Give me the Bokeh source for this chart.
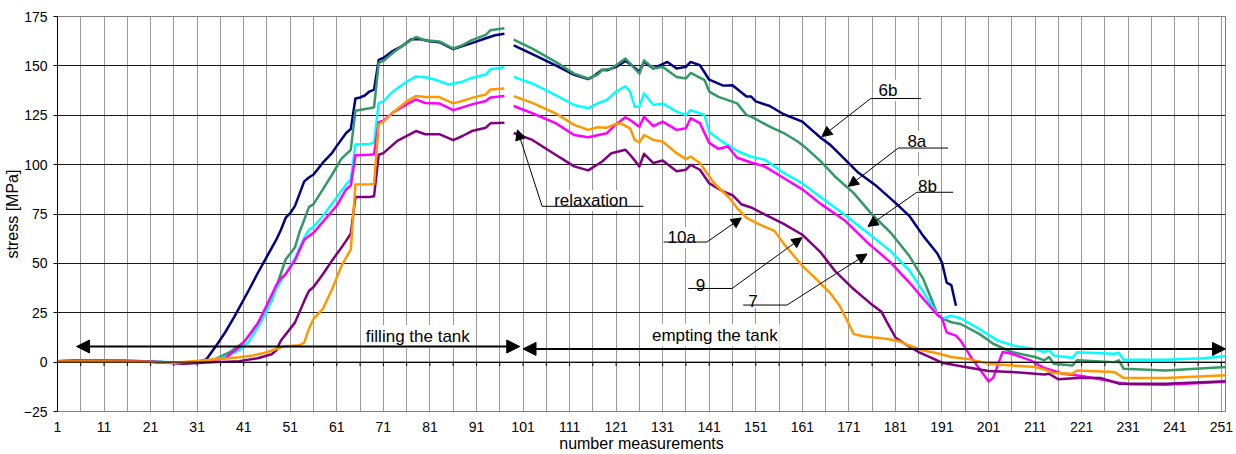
import numpy as np
from bokeh.plotting import figure
from bokeh.models import FixedTicker, Span, Arrow, NormalHead, Label, Range1d
from bokeh.embed import file_html
from bokeh.resources import INLINE

nan = float("nan")

# ---- data: (measurement number, stress MPa); nan = missing measurement ----
s6b = [(1,0.5),(10,0.7),(20,0.3),(28,-0.5),(31,-0.3),(33,1.5),(35,8),(37,15),(39,23),(42,36),(44,45),(46,53.5),(48,62),
       (49,67),(50,73),(51,75.5),(52,79),(54,91.5),(55,93.5),(56,95),(58,101),(60,106),(61,109.5),(63,116),(64,118),
       (65,133.5),(66,134),(67,135),(68,137),(69,138),(70,153),(71,154),(73,157.5),(75,160),(77,163.5),(79,163.5),
       (81,162.5),(83,162),(86,158.5),(88,160),(90,161.5),(93,164),(95,165.5),(97,166.3),(98,nan),
       (99,160.4),(103,156),(108,150.3),(112,145.5),(115,143.3),(116,144.5),(118,148),(119,147.8),(121,149.5),
       (123,152.5),(124,151),(126,147),(127,152),(129,148.7),(132,152),(134,148.7),(136,149.5),(137,152),(139,150.3),
       (141,143),(144,140),(146,140.2),(149,134.5),(150,134.5),(151,132),(154,129.7),(157,125.5),(161,121.8),
       (163,117.6),(165,113.5),(167,110),(170,103),(173,96),(177,89),(181,80.6),(184,74),(187,63.8),(190,55),
       (191,50.4),(192,40.3),(193,39),(194,28.5)]
s8a = [(1,0.5),(10,0.7),(20,0.3),(28,-0.5),(33,0.5),(35,1.7),(38,5),(41,10),(44,19.5),(47,31),(49,45),(50,52),(52,58),
       (53,66),(54,72),(55,78.5),(56,80),(58,87.5),(60,95),(62,103),(64,107.5),(65,127.3),(68,128.5),(69,129),
       (70,151.5),(71,152.5),(73,156.5),(75,160),(78,164.6),(80,163),(83,162.4),(86,158.8),(88,160.5),(90,163),
       (93,165.7),(94,168),(97,169),(98,nan),
       (99,163.3),(103,158.7),(108,152),(112,146.1),(115,143.6),(117,145.5),(118,147.8),(120,148.7),(123,153.7),
       (124,151.2),(126,146),(127,152.8),(129,148.7),(131,149.5),(134,144.4),(136,143.6),(137,146.4),(140,142.8),
       (141,137),(143,134.3),(147,131),(149,125.1),(150,124.3),(154,119.2),(157,116),(160,111.7),(162,108),
       (165,101.5),(168,94),(172,85.7),(176,74.7),(180,65.5),(184,53.7),(187,42),(189,30.3),(190,24),(191,22.2),
       (193,20.2),(195,19.3),(199,14.3),(202,9.3),(206,5.1),(211,2.6),(213,0.9),(214,2.6),(215,-0.8),(219,-1.7),
       (220,0.9),(228,0),(229,0.9),(230,-3.3),(239,-4.2),(252,-2.5)]
s8b = [(1,0.5),(5,1),(15,1),(20,0.5),(28,-0.3),(33,0.5),(37,2.5),(40,6),(42,10),(44,17.5),(46,26),(48,37),(49,41),
       (50,44.5),(52,52.5),(54,63),(55,67),(56,68.5),(58,74),(61,83.5),(63,90),(64,92.5),(65,110.2),(68,110.5),
       (69,111.2),(70,131.2),(71,132),(73,136.9),(76,142),(78,144.6),(80,144.2),(82,143.1),(85,140.6),(88,142),
       (90,143.9),(93,145.6),(94,148.3),(97,149.3),(98,nan),
       (99,144.4),(103,141.1),(108,135.2),(112,130.2),(115,128.5),(117,131),(119,132.7),(121,137),(123,139.7),
       (124,137),(125,129.3),(126,129.3),(127,136.1),(129,130.2),(131,131),(134,126.8),(136,125.1),(137,127.6),
       (140,125.1),(141,116.5),(144,111.3),(147,107),(150,104),(153,102.5),(157,95.8),(161,90.5),(165,83.5),
       (170,74.7),(175,65.5),(180,56.2),(184,46.5),(187,35.5),(190,24),(191,22),(193,23.5),(195,22.2),(199,16.8),
       (203,10.9),(207,8),(211,6.7),(213,5),(214,6.2),(215,3.4),(219,2.2),(220,5),(228,4.2),(229,4.7),(230,1.2),
       (239,1.2),(247,2),(252,3)]
s7 = [(1,0.5),(5,1),(15,0.8),(20,0.3),(28,-0.5),(33,0.3),(37,2),(40,7.5),(42,13),(44,19.5),(46,29),(48,39),(49,42.5),
      (50,44.5),(52,51.5),(54,62),(55,63.8),(56,65.5),(58,71),(61,79.3),(63,87.5),(64,89.4),(65,104.7),(68,105),
      (69,105.3),(70,121.5),(71,122.3),(73,126.3),(76,130.5),(78,133),(80,131.2),(83,131),(86,127.6),(88,129),
      (90,130.5),(93,132.2),(94,134),(97,134.7),(98,nan),
      (99,129.7),(103,126),(108,121),(112,115),(115,113.9),(119,115.9),(121,120.5),(123,124),(124,122.6),(126,119.2),
      (127,124.3),(129,119.5),(131,121.8),(134,117.6),(136,118.4),(137,123.5),(139,121),(141,111),(143,108),
      (145,109.2),(147,103.5),(150,101.1),(153,99),(157,93.2),(161,87.5),(165,80),(170,72),(175,60.5),(180,50.4),
      (184,40.3),(187,32),(190,24),(191,22.3),(192,15.1),(194,13.4),(195,10.9),(197,3.4),(199,-3.3),(201,-9.7),
      (202,-8),(204,5.1),(206,4.2),(210,0.9),(213,-3),(217,-5.9),(221,-7),(225,-8.7),(229,-10.4),(231,-11.2),
      (239,-11.4),(252,-10)]
s10a = [(1,0.3),(10,0.3),(20,0.2),(26,-0.3),(30,0.5),(35,1.5),(40,2.5),(43,3.4),(46,5),(49,7.5),(50,8),(53,8.5),
        (54,9.8),(55,16.8),(56,22),(58,26.9),(60,37),(62,48.7),(64,57),(65,89.9),(68,90),(69,90.2),(70,120.3),
        (71,121.8),(73,126.3),(76,132),(78,134.7),(80,134.2),(83,134.2),(86,131),(88,132.3),(90,133.8),(93,135.5),
        (94,138),(97,138.6),(98,nan),
        (99,134.7),(103,131.3),(108,126),(112,120.1),(115,117.6),(117,118.9),(119,118.7),(121,120.6),(122,120.9),
        (124,118.4),(125,112.5),(126,111.2),(127,115),(129,112.5),(131,111.7),(134,105.8),(136,102.8),(137,104.1),
        (139,100.8),(142,90.7),(145,84),(147,78),(149,73),(152,69.5),(155,66.5),(157,60),(161,48.7),(164,42),
        (167,35),(169,28.6),(171,19.3),(172,14.3),(174,13.1),(179,11.8),(182,10.4),(184,8.4),(187,5.9),(190,4.5),
        (193,2.6),(197,1.4),(201,-0.8),(206,-1.7),(211,-2.5),(213,-3.7),(215,-5.5),(219,-5.9),(220,-4.2),(228,-5),
        (230,-8),(239,-8),(252,-6.7)]
s9 = [(1,0.5),(10,0.5),(20,0.3),(28,-0.8),(31,-0.5),(35,0),(40,0.5),(44,2),(47,4),(48,6),(49,11),(52,20),(54,31),
      (55,36),(56,38),(58,44.5),(60,51.5),(62,58),(64,65),(65,83.6),(68,83.6),(69,84),(70,105),(71,105.8),(74,112),
      (78,117),(80,115.4),(83,115.4),(86,112.4),(88,114.5),(90,117),(93,118.7),(94,120.9),(97,121.2),(98,nan),
      (99,116),(103,112.5),(108,105),(112,99.1),(115,97.1),(118,101.6),(120,105.8),(123,107.5),(124,105),(126,99.1),
      (127,105.5),(129,100.8),(131,102.1),(134,96.6),(136,97.4),(137,99.9),(139,97.4),(141,90.5),(144,86.5),
      (146,84.5),(148,79.8),(150,78.3),(153,74.7),(157,70),(161,64.5),(163,60),(165,55.4),(168,46.2),(172,37),
      (176,29),(178,25.5),(179,21),(181,12.5),(183,9.3),(186,5.1),(191,-0.3),(196,-2.5),(201,-4.5),(206,-5),
      (211,-5.9),(213,-6.3),(214,-5.9),(216,-8.7),(221,-7.9),(225,-8),(229,-10.9),(239,-10.9),(252,-9.7)]

series_names = ["6b", "8a", "8b", "7", "9", "10a"]
series_data = [s6b, s8a, s8b, s7, s9, s10a]
series_colors = ["#000080", "#339966", "#00FFFF", "#FF00FF", "#800080", "#FF9900"]

x_ticks = list(range(1, 252, 10))
x_grid = list(range(1, 252, 5))
y_ticks = list(range(-25, 176, 25))

# callouts: label, text position (baseline), underline (x0, x1, y), arrow start, arrow tip
callouts = [
    ("6b", (179.4, 137.7), (175.7, 186.5, 133.5), (175.7, 133.5), (165.2, 114.2)),
    ("8a", (185.6, 111.7), (181.6, 192.3, 108.4), (181.6, 108.4), (170.9, 89.0)),
    ("8b", (187.9, 89.0), (185.6, 193.4, 86.0), (185.6, 86.0), (175.1, 68.7)),
    ("7", (150.4, 31.1), (148.3, 157.7, 28.9), (157.7, 28.9), (174.9, 54.8)),
    ("9", (139.1, 39.3), (136.5, 145.9, 37.3), (145.9, 37.3), (160.9, 63.0)),
    ("10a", (135.1, 63.0), (131.2, 140.5, 60.8), (140.5, 60.8), (147.9, 73.0)),
    ("relaxation", (115.6, 81.8), (105.1, 126.9, 78.9), (105.1, 78.9), (99.8, 117.6)),
]
phases = [("filling the tank", (78.4, 13.0), (5.1, 100.3, 7.9)),
          ("empting the tank", (142.2, 13.6), (101.0, 251.9, 6.7))]

FONT = "Liberation Sans"

p = figure(width=1236, height=454, output_backend="svg", toolbar_location=None,
           x_range=Range1d(1, 251.9), y_range=Range1d(-25, 175),
           min_border_left=57, min_border_right=11, min_border_top=16, min_border_bottom=41)
p.background_fill_color = "white"
p.outline_line_color = "#808080"
p.outline_line_width = 1

# axes
p.xaxis.ticker = FixedTicker(ticks=x_ticks)
p.xaxis.axis_label = "number measurements"
p.xaxis.major_tick_out = 0
p.xaxis.major_tick_in = 0
p.xaxis.minor_tick_out = 0
p.xaxis.minor_tick_in = 0
p.xaxis.major_label_standoff = 10
p.xaxis.axis_label_standoff = 0
p.xaxis.axis_line_color = "#808080"
p.xaxis.axis_label_text_font_size = "16px"

p.yaxis.ticker = FixedTicker(ticks=y_ticks)
p.yaxis.axis_label = "stress [MPa]"
p.yaxis.major_tick_out = 4
p.yaxis.major_tick_in = 0
p.yaxis.minor_tick_out = 0
p.yaxis.minor_tick_in = 0
p.yaxis.major_label_standoff = 6
p.yaxis.axis_label_standoff = 0
p.yaxis.axis_line_color = "black"
p.yaxis.axis_label_text_font_size = "16px"

for ax in (p.xaxis, p.yaxis):
    ax.major_label_text_font = FONT
    ax.major_label_text_font_size = "14px"
    ax.major_label_text_color = "black"
    ax.axis_label_text_font = FONT
    ax.axis_label_text_font_style = "normal"
    ax.axis_label_text_color = "black"
    ax.major_tick_line_color = "black"

# grids
p.xgrid.ticker = FixedTicker(ticks=x_grid)
p.xgrid.grid_line_color = "#9a9a9a"
p.xgrid.grid_line_width = 1
p.ygrid.ticker = FixedTicker(ticks=y_ticks)
p.ygrid.grid_line_color = "#1a1a1a"
p.ygrid.grid_line_width = 1

# zero line with its tick marks
p.add_layout(Span(location=0, dimension="width", line_color="black", line_width=1))
tick_len = 2.0
p.segment(x0=x_grid, y0=[0] * len(x_grid), x1=x_grid, y1=[-tick_len] * len(x_grid),
          line_color="black", line_width=1)

# data lines
for name, data, color in zip(series_names, series_data, series_colors):
    xs = np.array([d[0] for d in data], dtype=float)
    ys = np.array([d[1] for d in data], dtype=float)
    p.line(xs, ys, line_color=color, line_width=2.5, line_join="round")

# phase arrows and labels
for text, (tx, ty), (x0, x1, y) in phases:
    p.add_layout(Label(x=tx, y=ty, text=text, text_align="center", text_baseline="alphabetic",
                       text_font=FONT, text_font_size="17px", text_color="black",
                       background_fill_color="white", padding=2))
    p.add_layout(Arrow(x_start=x0, y_start=y, x_end=x1, y_end=y, line_width=2, line_color="black",
                       start=NormalHead(size=13, fill_color="black", line_color="black"),
                       end=NormalHead(size=13, fill_color="black", line_color="black")))

# callouts
for text, (tx, ty), (u0, u1, uy), (sx, sy), (ex, ey) in callouts:
    p.add_layout(Label(x=tx, y=ty, text=text, text_align="center", text_baseline="alphabetic",
                       text_font=FONT, text_font_size="17px", text_color="black",
                       background_fill_color="white", padding=1))
    p.add_layout(Arrow(x_start=u0, y_start=uy, x_end=u1, y_end=uy, line_width=1, line_color="black", end=None))
    p.add_layout(Arrow(x_start=sx, y_start=sy, x_end=ex, y_end=ey, line_width=1, line_color="black",
                       end=NormalHead(size=10, fill_color="black", line_color="black")))

open("out.html", "w").write(file_html(p, INLINE))
